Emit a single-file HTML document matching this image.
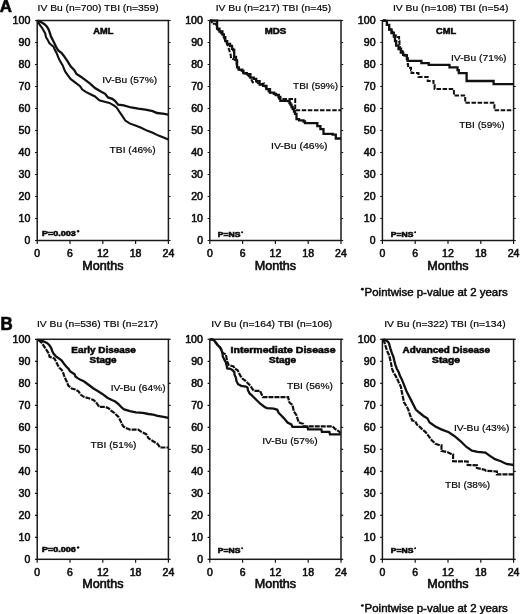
<!DOCTYPE html>
<html><head><meta charset="utf-8"><style>
html,body{margin:0;padding:0;background:#fff;}
svg{display:block;}
text{font-family:'Liberation Sans', sans-serif;stroke:#111;stroke-width:0;}
.ax{stroke-width:0.55px;}
.mo{stroke-width:0.6px;}
.lb{stroke-width:0.2px;}
.bd{stroke-width:0.55px;}
.ft{stroke-width:0.45px;}
.big{stroke-width:0.7px;}
svg{will-change:transform;}
</style></head><body>
<svg width="520" height="614" viewBox="0 0 520 614">
<rect width="520" height="614" fill="#fff"/>
<rect x="37.20" y="20.50" width="131.20" height="220.00" fill="none" stroke="#1a1a1a" stroke-width="1.5"/>
<path d="M35.00 20.50H37.20M168.40 20.50H170.60M35.00 42.50H37.20M168.40 42.50H170.60M35.00 64.50H37.20M168.40 64.50H170.60M35.00 86.50H37.20M168.40 86.50H170.60M35.00 108.50H37.20M168.40 108.50H170.60M35.00 130.50H37.20M168.40 130.50H170.60M35.00 152.50H37.20M168.40 152.50H170.60M35.00 174.50H37.20M168.40 174.50H170.60M35.00 196.50H37.20M168.40 196.50H170.60M35.00 218.50H37.20M168.40 218.50H170.60M35.00 240.50H37.20M168.40 240.50H170.60M37.20 240.50V244.00M70.00 240.50V244.00M102.80 240.50V244.00M135.60 240.50V244.00M168.40 240.50V244.00" stroke="#1a1a1a" stroke-width="1.2" fill="none"/>
<text x="30.40" y="24.05" font-size="10" text-anchor="end" class="ax" textLength="17.80" lengthAdjust="spacingAndGlyphs">100</text>
<text x="30.40" y="46.05" font-size="10" text-anchor="end" class="ax" textLength="11.80" lengthAdjust="spacingAndGlyphs">90</text>
<text x="30.40" y="68.05" font-size="10" text-anchor="end" class="ax" textLength="11.80" lengthAdjust="spacingAndGlyphs">80</text>
<text x="30.40" y="90.05" font-size="10" text-anchor="end" class="ax" textLength="11.80" lengthAdjust="spacingAndGlyphs">70</text>
<text x="30.40" y="112.05" font-size="10" text-anchor="end" class="ax" textLength="11.80" lengthAdjust="spacingAndGlyphs">60</text>
<text x="30.40" y="134.05" font-size="10" text-anchor="end" class="ax" textLength="11.80" lengthAdjust="spacingAndGlyphs">50</text>
<text x="30.40" y="156.05" font-size="10" text-anchor="end" class="ax" textLength="11.80" lengthAdjust="spacingAndGlyphs">40</text>
<text x="30.40" y="178.05" font-size="10" text-anchor="end" class="ax" textLength="11.80" lengthAdjust="spacingAndGlyphs">30</text>
<text x="30.40" y="200.05" font-size="10" text-anchor="end" class="ax" textLength="11.80" lengthAdjust="spacingAndGlyphs">20</text>
<text x="30.40" y="222.05" font-size="10" text-anchor="end" class="ax" textLength="11.80" lengthAdjust="spacingAndGlyphs">10</text>
<text x="30.40" y="244.05" font-size="10" text-anchor="end" class="ax" textLength="5.80" lengthAdjust="spacingAndGlyphs">0</text>
<text x="37.20" y="256.80" font-size="10" text-anchor="middle" class="ax" textLength="5.80" lengthAdjust="spacingAndGlyphs">0</text>
<text x="70.00" y="256.80" font-size="10" text-anchor="middle" class="ax" textLength="5.80" lengthAdjust="spacingAndGlyphs">6</text>
<text x="102.80" y="256.80" font-size="10" text-anchor="middle" class="ax" textLength="11.80" lengthAdjust="spacingAndGlyphs">12</text>
<text x="135.60" y="256.80" font-size="10" text-anchor="middle" class="ax" textLength="11.80" lengthAdjust="spacingAndGlyphs">18</text>
<text x="168.40" y="256.80" font-size="10" text-anchor="middle" class="ax" textLength="11.80" lengthAdjust="spacingAndGlyphs">24</text>
<text x="102.80" y="269.60" font-size="12" text-anchor="middle" class="mo" textLength="41.30" lengthAdjust="spacingAndGlyphs">Months</text>
<rect x="209.80" y="20.50" width="131.20" height="220.00" fill="none" stroke="#1a1a1a" stroke-width="1.5"/>
<path d="M207.60 20.50H209.80M341.00 20.50H343.20M207.60 42.50H209.80M341.00 42.50H343.20M207.60 64.50H209.80M341.00 64.50H343.20M207.60 86.50H209.80M341.00 86.50H343.20M207.60 108.50H209.80M341.00 108.50H343.20M207.60 130.50H209.80M341.00 130.50H343.20M207.60 152.50H209.80M341.00 152.50H343.20M207.60 174.50H209.80M341.00 174.50H343.20M207.60 196.50H209.80M341.00 196.50H343.20M207.60 218.50H209.80M341.00 218.50H343.20M207.60 240.50H209.80M341.00 240.50H343.20M209.80 240.50V244.00M242.60 240.50V244.00M275.40 240.50V244.00M308.20 240.50V244.00M341.00 240.50V244.00" stroke="#1a1a1a" stroke-width="1.2" fill="none"/>
<text x="203.00" y="24.05" font-size="10" text-anchor="end" class="ax" textLength="17.80" lengthAdjust="spacingAndGlyphs">100</text>
<text x="203.00" y="46.05" font-size="10" text-anchor="end" class="ax" textLength="11.80" lengthAdjust="spacingAndGlyphs">90</text>
<text x="203.00" y="68.05" font-size="10" text-anchor="end" class="ax" textLength="11.80" lengthAdjust="spacingAndGlyphs">80</text>
<text x="203.00" y="90.05" font-size="10" text-anchor="end" class="ax" textLength="11.80" lengthAdjust="spacingAndGlyphs">70</text>
<text x="203.00" y="112.05" font-size="10" text-anchor="end" class="ax" textLength="11.80" lengthAdjust="spacingAndGlyphs">60</text>
<text x="203.00" y="134.05" font-size="10" text-anchor="end" class="ax" textLength="11.80" lengthAdjust="spacingAndGlyphs">50</text>
<text x="203.00" y="156.05" font-size="10" text-anchor="end" class="ax" textLength="11.80" lengthAdjust="spacingAndGlyphs">40</text>
<text x="203.00" y="178.05" font-size="10" text-anchor="end" class="ax" textLength="11.80" lengthAdjust="spacingAndGlyphs">30</text>
<text x="203.00" y="200.05" font-size="10" text-anchor="end" class="ax" textLength="11.80" lengthAdjust="spacingAndGlyphs">20</text>
<text x="203.00" y="222.05" font-size="10" text-anchor="end" class="ax" textLength="11.80" lengthAdjust="spacingAndGlyphs">10</text>
<text x="203.00" y="244.05" font-size="10" text-anchor="end" class="ax" textLength="5.80" lengthAdjust="spacingAndGlyphs">0</text>
<text x="209.80" y="256.80" font-size="10" text-anchor="middle" class="ax" textLength="5.80" lengthAdjust="spacingAndGlyphs">0</text>
<text x="242.60" y="256.80" font-size="10" text-anchor="middle" class="ax" textLength="5.80" lengthAdjust="spacingAndGlyphs">6</text>
<text x="275.40" y="256.80" font-size="10" text-anchor="middle" class="ax" textLength="11.80" lengthAdjust="spacingAndGlyphs">12</text>
<text x="308.20" y="256.80" font-size="10" text-anchor="middle" class="ax" textLength="11.80" lengthAdjust="spacingAndGlyphs">18</text>
<text x="341.00" y="256.80" font-size="10" text-anchor="middle" class="ax" textLength="11.80" lengthAdjust="spacingAndGlyphs">24</text>
<text x="275.40" y="269.60" font-size="12" text-anchor="middle" class="mo" textLength="41.30" lengthAdjust="spacingAndGlyphs">Months</text>
<rect x="382.40" y="20.50" width="131.20" height="220.00" fill="none" stroke="#1a1a1a" stroke-width="1.5"/>
<path d="M380.20 20.50H382.40M513.60 20.50H515.80M380.20 42.50H382.40M513.60 42.50H515.80M380.20 64.50H382.40M513.60 64.50H515.80M380.20 86.50H382.40M513.60 86.50H515.80M380.20 108.50H382.40M513.60 108.50H515.80M380.20 130.50H382.40M513.60 130.50H515.80M380.20 152.50H382.40M513.60 152.50H515.80M380.20 174.50H382.40M513.60 174.50H515.80M380.20 196.50H382.40M513.60 196.50H515.80M380.20 218.50H382.40M513.60 218.50H515.80M380.20 240.50H382.40M513.60 240.50H515.80M382.40 240.50V244.00M415.20 240.50V244.00M448.00 240.50V244.00M480.80 240.50V244.00M513.60 240.50V244.00" stroke="#1a1a1a" stroke-width="1.2" fill="none"/>
<text x="375.60" y="24.05" font-size="10" text-anchor="end" class="ax" textLength="17.80" lengthAdjust="spacingAndGlyphs">100</text>
<text x="375.60" y="46.05" font-size="10" text-anchor="end" class="ax" textLength="11.80" lengthAdjust="spacingAndGlyphs">90</text>
<text x="375.60" y="68.05" font-size="10" text-anchor="end" class="ax" textLength="11.80" lengthAdjust="spacingAndGlyphs">80</text>
<text x="375.60" y="90.05" font-size="10" text-anchor="end" class="ax" textLength="11.80" lengthAdjust="spacingAndGlyphs">70</text>
<text x="375.60" y="112.05" font-size="10" text-anchor="end" class="ax" textLength="11.80" lengthAdjust="spacingAndGlyphs">60</text>
<text x="375.60" y="134.05" font-size="10" text-anchor="end" class="ax" textLength="11.80" lengthAdjust="spacingAndGlyphs">50</text>
<text x="375.60" y="156.05" font-size="10" text-anchor="end" class="ax" textLength="11.80" lengthAdjust="spacingAndGlyphs">40</text>
<text x="375.60" y="178.05" font-size="10" text-anchor="end" class="ax" textLength="11.80" lengthAdjust="spacingAndGlyphs">30</text>
<text x="375.60" y="200.05" font-size="10" text-anchor="end" class="ax" textLength="11.80" lengthAdjust="spacingAndGlyphs">20</text>
<text x="375.60" y="222.05" font-size="10" text-anchor="end" class="ax" textLength="11.80" lengthAdjust="spacingAndGlyphs">10</text>
<text x="375.60" y="244.05" font-size="10" text-anchor="end" class="ax" textLength="5.80" lengthAdjust="spacingAndGlyphs">0</text>
<text x="382.40" y="256.80" font-size="10" text-anchor="middle" class="ax" textLength="5.80" lengthAdjust="spacingAndGlyphs">0</text>
<text x="415.20" y="256.80" font-size="10" text-anchor="middle" class="ax" textLength="5.80" lengthAdjust="spacingAndGlyphs">6</text>
<text x="448.00" y="256.80" font-size="10" text-anchor="middle" class="ax" textLength="11.80" lengthAdjust="spacingAndGlyphs">12</text>
<text x="480.80" y="256.80" font-size="10" text-anchor="middle" class="ax" textLength="11.80" lengthAdjust="spacingAndGlyphs">18</text>
<text x="513.60" y="256.80" font-size="10" text-anchor="middle" class="ax" textLength="11.80" lengthAdjust="spacingAndGlyphs">24</text>
<text x="448.00" y="269.60" font-size="12" text-anchor="middle" class="mo" textLength="41.30" lengthAdjust="spacingAndGlyphs">Months</text>
<rect x="37.20" y="339.30" width="131.20" height="220.00" fill="none" stroke="#1a1a1a" stroke-width="1.5"/>
<path d="M35.00 339.30H37.20M168.40 339.30H170.60M35.00 361.30H37.20M168.40 361.30H170.60M35.00 383.30H37.20M168.40 383.30H170.60M35.00 405.30H37.20M168.40 405.30H170.60M35.00 427.30H37.20M168.40 427.30H170.60M35.00 449.30H37.20M168.40 449.30H170.60M35.00 471.30H37.20M168.40 471.30H170.60M35.00 493.30H37.20M168.40 493.30H170.60M35.00 515.30H37.20M168.40 515.30H170.60M35.00 537.30H37.20M168.40 537.30H170.60M35.00 559.30H37.20M168.40 559.30H170.60M37.20 559.30V562.80M70.00 559.30V562.80M102.80 559.30V562.80M135.60 559.30V562.80M168.40 559.30V562.80" stroke="#1a1a1a" stroke-width="1.2" fill="none"/>
<text x="30.40" y="342.85" font-size="10" text-anchor="end" class="ax" textLength="17.80" lengthAdjust="spacingAndGlyphs">100</text>
<text x="30.40" y="364.85" font-size="10" text-anchor="end" class="ax" textLength="11.80" lengthAdjust="spacingAndGlyphs">90</text>
<text x="30.40" y="386.85" font-size="10" text-anchor="end" class="ax" textLength="11.80" lengthAdjust="spacingAndGlyphs">80</text>
<text x="30.40" y="408.85" font-size="10" text-anchor="end" class="ax" textLength="11.80" lengthAdjust="spacingAndGlyphs">70</text>
<text x="30.40" y="430.85" font-size="10" text-anchor="end" class="ax" textLength="11.80" lengthAdjust="spacingAndGlyphs">60</text>
<text x="30.40" y="452.85" font-size="10" text-anchor="end" class="ax" textLength="11.80" lengthAdjust="spacingAndGlyphs">50</text>
<text x="30.40" y="474.85" font-size="10" text-anchor="end" class="ax" textLength="11.80" lengthAdjust="spacingAndGlyphs">40</text>
<text x="30.40" y="496.85" font-size="10" text-anchor="end" class="ax" textLength="11.80" lengthAdjust="spacingAndGlyphs">30</text>
<text x="30.40" y="518.85" font-size="10" text-anchor="end" class="ax" textLength="11.80" lengthAdjust="spacingAndGlyphs">20</text>
<text x="30.40" y="540.85" font-size="10" text-anchor="end" class="ax" textLength="11.80" lengthAdjust="spacingAndGlyphs">10</text>
<text x="30.40" y="562.85" font-size="10" text-anchor="end" class="ax" textLength="5.80" lengthAdjust="spacingAndGlyphs">0</text>
<text x="37.20" y="575.60" font-size="10" text-anchor="middle" class="ax" textLength="5.80" lengthAdjust="spacingAndGlyphs">0</text>
<text x="70.00" y="575.60" font-size="10" text-anchor="middle" class="ax" textLength="5.80" lengthAdjust="spacingAndGlyphs">6</text>
<text x="102.80" y="575.60" font-size="10" text-anchor="middle" class="ax" textLength="11.80" lengthAdjust="spacingAndGlyphs">12</text>
<text x="135.60" y="575.60" font-size="10" text-anchor="middle" class="ax" textLength="11.80" lengthAdjust="spacingAndGlyphs">18</text>
<text x="168.40" y="575.60" font-size="10" text-anchor="middle" class="ax" textLength="11.80" lengthAdjust="spacingAndGlyphs">24</text>
<text x="102.80" y="588.40" font-size="12" text-anchor="middle" class="mo" textLength="41.30" lengthAdjust="spacingAndGlyphs">Months</text>
<rect x="209.80" y="339.30" width="131.20" height="220.00" fill="none" stroke="#1a1a1a" stroke-width="1.5"/>
<path d="M207.60 339.30H209.80M341.00 339.30H343.20M207.60 361.30H209.80M341.00 361.30H343.20M207.60 383.30H209.80M341.00 383.30H343.20M207.60 405.30H209.80M341.00 405.30H343.20M207.60 427.30H209.80M341.00 427.30H343.20M207.60 449.30H209.80M341.00 449.30H343.20M207.60 471.30H209.80M341.00 471.30H343.20M207.60 493.30H209.80M341.00 493.30H343.20M207.60 515.30H209.80M341.00 515.30H343.20M207.60 537.30H209.80M341.00 537.30H343.20M207.60 559.30H209.80M341.00 559.30H343.20M209.80 559.30V562.80M242.60 559.30V562.80M275.40 559.30V562.80M308.20 559.30V562.80M341.00 559.30V562.80" stroke="#1a1a1a" stroke-width="1.2" fill="none"/>
<text x="203.00" y="342.85" font-size="10" text-anchor="end" class="ax" textLength="17.80" lengthAdjust="spacingAndGlyphs">100</text>
<text x="203.00" y="364.85" font-size="10" text-anchor="end" class="ax" textLength="11.80" lengthAdjust="spacingAndGlyphs">90</text>
<text x="203.00" y="386.85" font-size="10" text-anchor="end" class="ax" textLength="11.80" lengthAdjust="spacingAndGlyphs">80</text>
<text x="203.00" y="408.85" font-size="10" text-anchor="end" class="ax" textLength="11.80" lengthAdjust="spacingAndGlyphs">70</text>
<text x="203.00" y="430.85" font-size="10" text-anchor="end" class="ax" textLength="11.80" lengthAdjust="spacingAndGlyphs">60</text>
<text x="203.00" y="452.85" font-size="10" text-anchor="end" class="ax" textLength="11.80" lengthAdjust="spacingAndGlyphs">50</text>
<text x="203.00" y="474.85" font-size="10" text-anchor="end" class="ax" textLength="11.80" lengthAdjust="spacingAndGlyphs">40</text>
<text x="203.00" y="496.85" font-size="10" text-anchor="end" class="ax" textLength="11.80" lengthAdjust="spacingAndGlyphs">30</text>
<text x="203.00" y="518.85" font-size="10" text-anchor="end" class="ax" textLength="11.80" lengthAdjust="spacingAndGlyphs">20</text>
<text x="203.00" y="540.85" font-size="10" text-anchor="end" class="ax" textLength="11.80" lengthAdjust="spacingAndGlyphs">10</text>
<text x="203.00" y="562.85" font-size="10" text-anchor="end" class="ax" textLength="5.80" lengthAdjust="spacingAndGlyphs">0</text>
<text x="209.80" y="575.60" font-size="10" text-anchor="middle" class="ax" textLength="5.80" lengthAdjust="spacingAndGlyphs">0</text>
<text x="242.60" y="575.60" font-size="10" text-anchor="middle" class="ax" textLength="5.80" lengthAdjust="spacingAndGlyphs">6</text>
<text x="275.40" y="575.60" font-size="10" text-anchor="middle" class="ax" textLength="11.80" lengthAdjust="spacingAndGlyphs">12</text>
<text x="308.20" y="575.60" font-size="10" text-anchor="middle" class="ax" textLength="11.80" lengthAdjust="spacingAndGlyphs">18</text>
<text x="341.00" y="575.60" font-size="10" text-anchor="middle" class="ax" textLength="11.80" lengthAdjust="spacingAndGlyphs">24</text>
<text x="275.40" y="588.40" font-size="12" text-anchor="middle" class="mo" textLength="41.30" lengthAdjust="spacingAndGlyphs">Months</text>
<rect x="382.40" y="339.30" width="131.20" height="220.00" fill="none" stroke="#1a1a1a" stroke-width="1.5"/>
<path d="M380.20 339.30H382.40M513.60 339.30H515.80M380.20 361.30H382.40M513.60 361.30H515.80M380.20 383.30H382.40M513.60 383.30H515.80M380.20 405.30H382.40M513.60 405.30H515.80M380.20 427.30H382.40M513.60 427.30H515.80M380.20 449.30H382.40M513.60 449.30H515.80M380.20 471.30H382.40M513.60 471.30H515.80M380.20 493.30H382.40M513.60 493.30H515.80M380.20 515.30H382.40M513.60 515.30H515.80M380.20 537.30H382.40M513.60 537.30H515.80M380.20 559.30H382.40M513.60 559.30H515.80M382.40 559.30V562.80M415.20 559.30V562.80M448.00 559.30V562.80M480.80 559.30V562.80M513.60 559.30V562.80" stroke="#1a1a1a" stroke-width="1.2" fill="none"/>
<text x="375.60" y="342.85" font-size="10" text-anchor="end" class="ax" textLength="17.80" lengthAdjust="spacingAndGlyphs">100</text>
<text x="375.60" y="364.85" font-size="10" text-anchor="end" class="ax" textLength="11.80" lengthAdjust="spacingAndGlyphs">90</text>
<text x="375.60" y="386.85" font-size="10" text-anchor="end" class="ax" textLength="11.80" lengthAdjust="spacingAndGlyphs">80</text>
<text x="375.60" y="408.85" font-size="10" text-anchor="end" class="ax" textLength="11.80" lengthAdjust="spacingAndGlyphs">70</text>
<text x="375.60" y="430.85" font-size="10" text-anchor="end" class="ax" textLength="11.80" lengthAdjust="spacingAndGlyphs">60</text>
<text x="375.60" y="452.85" font-size="10" text-anchor="end" class="ax" textLength="11.80" lengthAdjust="spacingAndGlyphs">50</text>
<text x="375.60" y="474.85" font-size="10" text-anchor="end" class="ax" textLength="11.80" lengthAdjust="spacingAndGlyphs">40</text>
<text x="375.60" y="496.85" font-size="10" text-anchor="end" class="ax" textLength="11.80" lengthAdjust="spacingAndGlyphs">30</text>
<text x="375.60" y="518.85" font-size="10" text-anchor="end" class="ax" textLength="11.80" lengthAdjust="spacingAndGlyphs">20</text>
<text x="375.60" y="540.85" font-size="10" text-anchor="end" class="ax" textLength="11.80" lengthAdjust="spacingAndGlyphs">10</text>
<text x="375.60" y="562.85" font-size="10" text-anchor="end" class="ax" textLength="5.80" lengthAdjust="spacingAndGlyphs">0</text>
<text x="382.40" y="575.60" font-size="10" text-anchor="middle" class="ax" textLength="5.80" lengthAdjust="spacingAndGlyphs">0</text>
<text x="415.20" y="575.60" font-size="10" text-anchor="middle" class="ax" textLength="5.80" lengthAdjust="spacingAndGlyphs">6</text>
<text x="448.00" y="575.60" font-size="10" text-anchor="middle" class="ax" textLength="11.80" lengthAdjust="spacingAndGlyphs">12</text>
<text x="480.80" y="575.60" font-size="10" text-anchor="middle" class="ax" textLength="11.80" lengthAdjust="spacingAndGlyphs">18</text>
<text x="513.60" y="575.60" font-size="10" text-anchor="middle" class="ax" textLength="11.80" lengthAdjust="spacingAndGlyphs">24</text>
<text x="448.00" y="588.40" font-size="12" text-anchor="middle" class="mo" textLength="41.30" lengthAdjust="spacingAndGlyphs">Months</text>
<text x="-0.20" y="12.30" font-size="17.2" text-anchor="start" class="big" font-weight="bold" textLength="12.20" lengthAdjust="spacingAndGlyphs">A</text>
<text x="0.50" y="330.40" font-size="17.6" text-anchor="start" class="big" font-weight="bold" textLength="12.20" lengthAdjust="spacingAndGlyphs">B</text>
<text x="37.60" y="11.00" font-size="9" text-anchor="start" class="lb" textLength="121.00" lengthAdjust="spacingAndGlyphs">IV Bu (n=700) TBI (n=359)</text>
<text x="215.70" y="11.00" font-size="9" text-anchor="start" class="lb" textLength="115.60" lengthAdjust="spacingAndGlyphs">IV Bu (n=217) TBI (n=45)</text>
<text x="392.90" y="11.00" font-size="9" text-anchor="start" class="lb" textLength="115.60" lengthAdjust="spacingAndGlyphs">IV Bu (n=108) TBI (n=54)</text>
<text x="37.00" y="327.00" font-size="9" text-anchor="start" class="lb" textLength="121.00" lengthAdjust="spacingAndGlyphs">IV Bu (n=536) TBI (n=217)</text>
<text x="211.30" y="327.00" font-size="9" text-anchor="start" class="lb" textLength="121.00" lengthAdjust="spacingAndGlyphs">IV Bu (n=164) TBI (n=106)</text>
<text x="384.20" y="327.00" font-size="9" text-anchor="start" class="lb" textLength="121.40" lengthAdjust="spacingAndGlyphs">IV Bu (n=322) TBI (n=134)</text>
<text x="93.30" y="33.80" font-size="8.5" text-anchor="start" class="bd" font-weight="bold" textLength="20.00" lengthAdjust="spacingAndGlyphs">AML</text>
<text x="264.80" y="33.70" font-size="8.5" text-anchor="start" class="bd" font-weight="bold" textLength="21.50" lengthAdjust="spacingAndGlyphs">MDS</text>
<text x="436.10" y="33.80" font-size="8.5" text-anchor="start" class="bd" font-weight="bold" textLength="20.00" lengthAdjust="spacingAndGlyphs">CML</text>
<text x="71.30" y="352.70" font-size="8.5" text-anchor="start" class="bd" font-weight="bold" textLength="64.50" lengthAdjust="spacingAndGlyphs">Early Disease</text>
<text x="89.60" y="362.80" font-size="8.5" text-anchor="start" class="bd" font-weight="bold" textLength="27.00" lengthAdjust="spacingAndGlyphs">Stage</text>
<text x="230.60" y="352.70" font-size="8.5" text-anchor="start" class="bd" font-weight="bold" textLength="104.90" lengthAdjust="spacingAndGlyphs">Intermediate Disease</text>
<text x="269.10" y="362.80" font-size="8.5" text-anchor="start" class="bd" font-weight="bold" textLength="27.00" lengthAdjust="spacingAndGlyphs">Stage</text>
<text x="402.60" y="352.70" font-size="8.5" text-anchor="start" class="bd" font-weight="bold" textLength="87.40" lengthAdjust="spacingAndGlyphs">Advanced Disease</text>
<text x="432.10" y="362.80" font-size="8.5" text-anchor="start" class="bd" font-weight="bold" textLength="28.00" lengthAdjust="spacingAndGlyphs">Stage</text>
<text x="42.00" y="235.70" font-size="7" text-anchor="start" class="bd" font-weight="bold" textLength="33.70" lengthAdjust="spacingAndGlyphs">P=0.003</text>
<circle cx="78.1" cy="231.2" r="1.25" fill="#111"/>
<text x="217.70" y="236.90" font-size="7" text-anchor="start" class="bd" font-weight="bold" textLength="22.70" lengthAdjust="spacingAndGlyphs">P=NS</text>
<circle cx="242.1" cy="232.3" r="1.05" fill="#111"/>
<text x="390.70" y="236.90" font-size="7" text-anchor="start" class="bd" font-weight="bold" textLength="22.70" lengthAdjust="spacingAndGlyphs">P=NS</text>
<circle cx="415.1" cy="232.3" r="1.05" fill="#111"/>
<text x="42.00" y="552.10" font-size="7" text-anchor="start" class="bd" font-weight="bold" textLength="33.70" lengthAdjust="spacingAndGlyphs">P=0.006</text>
<circle cx="78.1" cy="547.6" r="1.25" fill="#111"/>
<text x="217.70" y="552.90" font-size="7" text-anchor="start" class="bd" font-weight="bold" textLength="22.70" lengthAdjust="spacingAndGlyphs">P=NS</text>
<circle cx="242.1" cy="548.3" r="1.05" fill="#111"/>
<text x="390.70" y="552.90" font-size="7" text-anchor="start" class="bd" font-weight="bold" textLength="22.70" lengthAdjust="spacingAndGlyphs">P=NS</text>
<circle cx="415.1" cy="548.3" r="1.05" fill="#111"/>
<text x="102.30" y="82.60" font-size="9" text-anchor="start" class="lb" textLength="54.80" lengthAdjust="spacingAndGlyphs">IV-Bu (57%)</text>
<text x="109.60" y="152.80" font-size="9" text-anchor="start" class="lb" textLength="46.00" lengthAdjust="spacingAndGlyphs">TBI (46%)</text>
<text x="293.10" y="88.90" font-size="9" text-anchor="start" class="lb" textLength="45.00" lengthAdjust="spacingAndGlyphs">TBI (59%)</text>
<text x="271.00" y="149.00" font-size="9" text-anchor="start" class="lb" textLength="56.50" lengthAdjust="spacingAndGlyphs">IV-Bu (46%)</text>
<text x="451.00" y="61.30" font-size="9" text-anchor="start" class="lb" textLength="55.50" lengthAdjust="spacingAndGlyphs">IV-Bu (71%)</text>
<text x="459.20" y="127.90" font-size="9" text-anchor="start" class="lb" textLength="45.40" lengthAdjust="spacingAndGlyphs">TBI (59%)</text>
<text x="110.80" y="391.20" font-size="9" text-anchor="start" class="lb" textLength="54.80" lengthAdjust="spacingAndGlyphs">IV-Bu (64%)</text>
<text x="90.60" y="447.90" font-size="9" text-anchor="start" class="lb" textLength="45.70" lengthAdjust="spacingAndGlyphs">TBI (51%)</text>
<text x="287.10" y="389.20" font-size="9" text-anchor="start" class="lb" textLength="45.90" lengthAdjust="spacingAndGlyphs">TBI (56%)</text>
<text x="262.20" y="443.70" font-size="9" text-anchor="start" class="lb" textLength="55.40" lengthAdjust="spacingAndGlyphs">IV-Bu (57%)</text>
<text x="454.00" y="431.00" font-size="9" text-anchor="start" class="lb" textLength="55.40" lengthAdjust="spacingAndGlyphs">IV-Bu (43%)</text>
<text x="445.00" y="487.70" font-size="9" text-anchor="start" class="lb" textLength="45.20" lengthAdjust="spacingAndGlyphs">TBI (38%)</text>
<text x="364.60" y="295.60" font-size="10" text-anchor="start" class="ft" textLength="143.10" lengthAdjust="spacingAndGlyphs">Pointwise p-value at 2 years</text>
<ellipse cx="362.4" cy="289.20" rx="1.5" ry="1.35" fill="#111"/>
<text x="364.60" y="611.90" font-size="10" text-anchor="start" class="ft" textLength="143.10" lengthAdjust="spacingAndGlyphs">Pointwise p-value at 2 years</text>
<ellipse cx="362.4" cy="605.50" rx="1.5" ry="1.35" fill="#111"/>
<path d="M37.5 20.7 L39.8 24.9 L42.2 28.0 L43.7 30.7 L45.2 33.4 L46.0 37.2 L47.9 40.3 L49.5 43.4 L52.2 45.7 L53.5 46.6 L54.6 49.2 L56.9 53.8 L59.2 59.6 L62.7 65.4 L65.0 71.2 L67.3 74.6 L70.8 79.2 L75.4 82.7 L80.0 86.2 L82.3 89.6 L85.8 91.9 L90.4 94.2 L95.0 96.5 L99.3 100.3 L103.7 101.4 L109.4 102.9 L113.8 105.3 L116.6 107.5 L119.5 111.8 L122.4 116.2 L125.3 120.5 L129.6 123.4 L135.4 125.5 L141.2 127.7 L146.9 130.6 L152.7 132.7 L158.5 135.6 L164.2 137.8 L168.4 139.5" fill="none" stroke="#111" stroke-width="2.1" stroke-linejoin="miter"/>
<path d="M37.5 20.7 L40.6 21.8 L44.5 24.2 L46.8 26.5 L48.3 28.8 L49.5 31.8 L51.0 36.5 L52.9 40.3 L54.5 43.4 L56.0 46.8 L58.2 50.4 L61.4 52.8 L63.7 55.7 L67.3 60.8 L70.8 66.5 L74.2 70.0 L76.5 74.0 L81.2 76.9 L85.8 80.4 L90.4 83.8 L95.0 88.0 L100.8 91.6 L105.1 93.8 L108.0 97.4 L112.3 98.8 L115.2 101.0 L118.1 104.6 L123.8 105.3 L131.1 107.5 L138.3 108.7 L145.5 109.7 L152.7 111.1 L157.0 113.0 L162.8 113.6 L168.4 114.6" fill="none" stroke="#111" stroke-width="2.3" stroke-linejoin="miter"/>
<path d="M210.0 20.6H216.2V20.6H217.1V28.6H219.5V31.5H222.4V34.3H223.9V37.2H225.3V41.1H227.2V44.0H230.1V45.9H232.0V48.8H233.1V50.0H234.2V56.9H236.0V60.4H237.1V67.3H238.8V69.6H242.3V70.8H243.5V73.1H246.9V74.2H250.4V77.7H253.8V78.8H256.2V81.2H259.6V84.6H263.1V85.8H266.5V89.2H270.0V92.7H274.2V93.8H276.0V95.0H278.8V96.9H280.4V100.9H288.1V101.1H289.5V103.0H290.4V104.6H291.5V107.0H292.7V109.2H294.0V111.5H295.0V113.8H296.5V119.2H299.0V120.3H303.5V121.5H305.0V123.1H314.2V123.1H317.3V126.2H320.4V129.2H323.5V133.8H332.7V134.6H335.8V138.5H341.0V138.5" fill="none" stroke="#111" stroke-width="2.3" stroke-linejoin="miter"/>
<path d="M210.0 20.6 L211.8 20.6 L211.8 23.8 L215.7 23.8 L217.1 28.6 L219.5 31.5 L222.4 34.3 L223.9 37.2 L225.3 41.1 L227.2 44.0 L229.6 51.2 L230.6 54.5 L231.1 58.4 L234.0 59.3 L236.0 60.4 L237.1 67.3 L238.8 69.6 L242.3 70.8 L243.5 73.1 L246.9 74.2 L250.4 77.7 L252.7 82.3 L256.2 81.2 L259.6 84.6 L264.2 83.5 L266.5 89.2 L270.0 92.7 L273.5 93.8 L277.7 95.8 L279.3 99.0 L295.2 99.0 L295.2 110.2 L341.0 110.2" fill="none" stroke="#111" stroke-width="2.0" stroke-linejoin="miter" stroke-dasharray="4.5 1.6"/>
<path d="M383.0 20.5H384.6V20.9H386.9V24.9H389.2V29.5H391.5V33.0H393.8V36.5H395.0V41.1H396.2V45.7H398.5V49.2H400.8V52.6H403.1V54.9H404.6V55.5H406.9V58.5H407.6V60.8H421.4V60.8H421.4V63.1H428.7V63.1H428.7V64.9H449.5V64.9H449.5V67.4H457.5V67.4H457.5V70.2H458.8V70.2H458.8V73.1H466.6V73.1H466.6V81.0H493.6V81.0H493.6V84.2H513.6V84.2" fill="none" stroke="#111" stroke-width="2.3" stroke-linejoin="miter"/>
<path d="M383.0 20.5H384.6V20.9H386.9V24.9H389.2V29.5H391.8V32.2H394.2V35.5H397.5V37.1H399.1V41.2H399.5V46.9H399.9V48.5H402.4V52.6H403.1V54.9H406.9V58.5H407.7V64.2H408.1V67.7H411.0V70.0H411.5V72.9H418.5V72.9H418.5V76.9H427.7V76.9H427.7V81.0H432.3V81.0H433.5V85.0H434.6V89.0H453.9V89.0H453.9V95.4H465.2V95.4H465.2V102.8H494.4V102.8H494.4V110.2H513.6V110.2" fill="none" stroke="#111" stroke-width="2.0" stroke-linejoin="miter" stroke-dasharray="4.5 1.6"/>
<path d="M38.3 340.0 L42.9 341.2 L47.0 342.9 L49.2 345.0 L51.2 348.1 L52.3 351.2 L53.5 353.5 L55.4 355.8 L58.5 358.1 L61.5 360.4 L63.8 363.5 L66.2 366.5 L68.5 368.8 L70.0 371.2 L72.3 372.7 L74.6 374.2 L75.4 376.5 L77.7 378.1 L80.0 379.6 L84.2 381.5 L88.8 385.0 L93.5 388.5 L98.1 391.3 L102.7 394.2 L107.3 397.7 L111.9 400.0 L115.2 401.5 L118.5 404.2 L121.9 407.7 L124.2 409.4 L130.0 411.2 L135.8 412.3 L142.7 412.9 L148.5 414.0 L153.1 414.6 L157.7 415.8 L163.5 416.9 L168.4 417.9" fill="none" stroke="#111" stroke-width="2.3" stroke-linejoin="miter"/>
<path d="M38.3 340.0 L41.8 342.9 L44.1 346.4 L46.4 349.8 L48.7 353.3 L49.6 356.9 L52.0 357.5 L54.6 358.8 L56.2 361.9 L57.7 365.0 L59.6 368.1 L61.5 369.6 L63.1 372.7 L64.2 375.8 L65.4 378.8 L66.9 381.9 L68.3 385.6 L71.8 388.5 L75.2 389.5 L78.5 391.3 L80.8 394.8 L84.2 397.1 L88.8 398.3 L93.5 400.0 L96.9 403.5 L99.2 406.9 L105.0 406.9 L108.5 408.1 L110.8 410.4 L114.2 412.8 L118.5 416.9 L120.8 421.5 L123.1 426.2 L125.4 427.9 L130.0 429.6 L138.1 429.6 L141.5 431.9 L146.2 434.2 L148.5 438.3 L153.1 441.2 L157.7 444.0 L160.0 447.5 L168.4 447.5" fill="none" stroke="#111" stroke-width="2.2" stroke-linejoin="miter" stroke-dasharray="5 1"/>
<path d="M210.0 339.5 L211.8 339.5 L213.8 340.0 L215.5 342.3 L217.8 345.2 L220.1 347.5 L221.3 349.8 L222.4 352.7 L222.8 356.5 L224.2 359.5 L225.5 361.5 L226.5 365.0 L227.3 368.5 L230.4 368.8 L232.7 370.4 L234.2 371.9 L234.6 375.0 L235.8 377.3 L236.5 381.2 L238.1 384.2 L241.2 385.8 L245.8 386.5 L247.3 387.3 L248.1 390.4 L249.6 393.5 L251.9 395.4 L254.2 397.7 L256.5 400.0 L260.0 403.5 L264.6 406.9 L266.9 408.1 L273.8 408.7 L277.3 409.8 L278.5 412.7 L280.8 415.0 L283.8 418.1 L287.5 422.5 L291.3 424.4 L292.5 426.9 L307.5 426.9 L308.1 429.4 L321.3 429.4 L321.9 431.9 L329.4 431.9 L330.0 434.4 L340.8 434.4" fill="none" stroke="#111" stroke-width="2.3" stroke-linejoin="miter"/>
<path d="M210.0 339.5 L211.8 339.5 L213.8 340.0 L215.5 342.3 L217.8 345.2 L220.1 347.5 L221.3 349.8 L222.4 352.7 L225.9 354.5 L226.5 357.9 L227.3 361.9 L228.8 365.0 L233.5 366.5 L235.0 368.8 L237.7 370.4 L238.8 372.7 L240.4 375.8 L242.7 378.8 L245.8 381.2 L248.1 383.5 L250.4 385.8 L251.9 388.1 L253.5 390.4 L254.2 390.8 L260.0 390.8 L262.9 397.1 L288.1 397.1 L289.4 402.5 L292.5 405.0 L293.8 411.3 L296.3 415.0 L298.8 422.5 L303.1 423.8 L303.8 426.3 L332.5 426.3 L335.0 428.8 L338.8 431.3 L340.8 432.8" fill="none" stroke="#111" stroke-width="2.2" stroke-linejoin="miter" stroke-dasharray="5 1"/>
<path d="M383.4 339.4 L386.7 340.8 L388.7 342.7 L389.6 345.6 L390.6 349.5 L392.0 353.3 L393.5 357.2 L394.4 361.0 L395.4 364.8 L396.8 368.7 L398.8 372.5 L399.6 375.0 L401.9 379.6 L404.2 385.4 L406.5 391.2 L408.8 395.8 L411.2 400.4 L413.5 405.0 L415.8 409.6 L419.2 412.5 L423.8 416.2 L427.3 418.3 L429.6 422.5 L435.4 426.5 L441.2 429.4 L448.8 432.3 L454.6 436.2 L460.4 441.0 L466.2 446.7 L471.9 450.6 L477.7 451.9 L485.4 452.5 L489.2 455.4 L495.0 459.2 L500.8 461.2 L506.5 464.0 L513.6 465.0" fill="none" stroke="#111" stroke-width="2.3" stroke-linejoin="miter"/>
<path d="M383.4 339.4 L384.8 343.7 L386.3 348.5 L387.7 352.3 L389.1 355.2 L390.1 359.1 L391.1 363.9 L392.0 368.7 L393.5 372.5 L395.9 376.4 L397.8 380.2 L398.5 381.9 L400.8 386.5 L401.9 392.3 L403.1 398.1 L404.2 402.7 L406.5 406.2 L408.3 409.6 L409.4 413.1 L410.6 416.5 L412.3 420.6 L415.2 421.2 L416.9 424.6 L419.8 426.9 L422.1 429.2 L425.8 432.3 L431.5 440.0 L435.4 443.8 L440.0 445.4 L441.5 445.4 L441.5 450.8 L447.7 452.3 L452.3 454.6 L453.1 454.6 L453.1 461.2 L467.7 461.5 L467.7 465.0 L476.9 465.4 L476.9 468.0 L484.6 469.8 L486.2 470.8 L496.9 471.5 L496.9 474.4 L513.6 474.4" fill="none" stroke="#111" stroke-width="2.2" stroke-linejoin="miter" stroke-dasharray="5 1"/>
</svg>
</body></html>
